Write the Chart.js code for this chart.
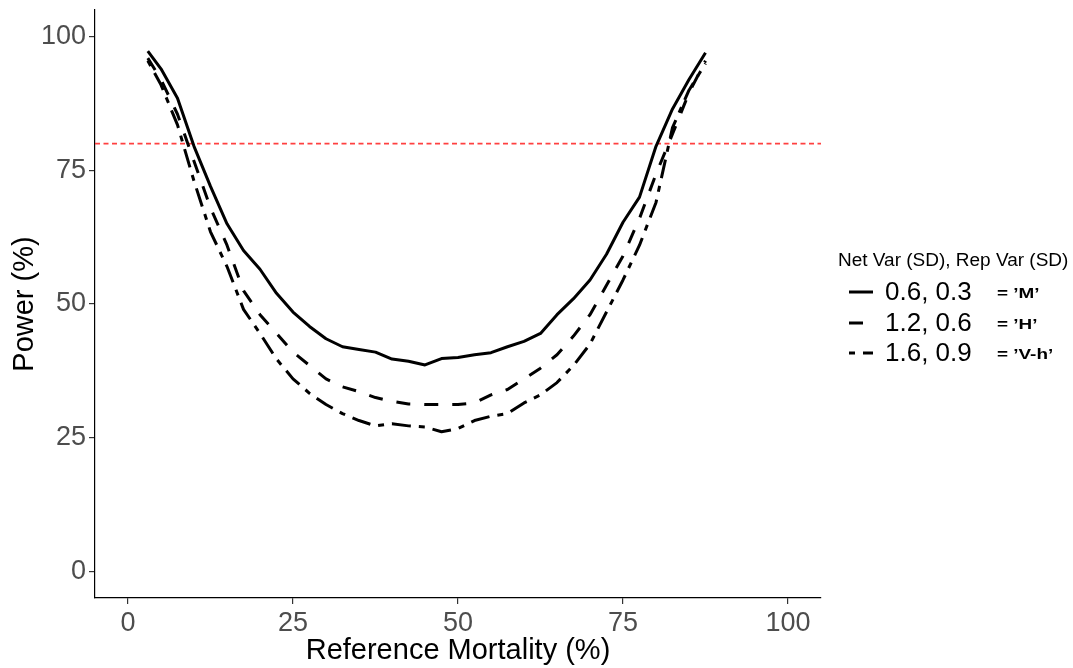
<!DOCTYPE html>
<html>
<head>
<meta charset="utf-8">
<title>Power vs Reference Mortality</title>
<script src="https://cdn.jsdelivr.net/npm/chart.js@4.4.1/dist/chart.umd.min.js"></script>
<style>
  html, body { margin: 0; padding: 0; background: #fff; }
  #wrap { width: 1073px; height: 668px; position: relative; }
</style>
</head>
<body>
<div id="wrap"><canvas id="powerChart"></canvas></div>
<script>
"use strict";
// reference mortality (%) on the x axis
var mortality = [3, 5, 7.5, 10, 12.5, 15, 17.5, 20, 22.5, 25, 27.5, 30, 32.5, 35, 37.5, 40, 42.5, 45,
                 47.5, 50, 52.5, 55, 57.5, 60, 62.5, 65, 67.5, 70, 72.5, 75, 77.5, 80, 82.5, 85, 87.5];
// power (%) for each variance scenario
var powerM  = [97.3, 94, 88.5, 79.5, 72, 65, 60, 56.5, 52, 48.5, 45.8, 43.5, 42, 41.5, 41, 39.7, 39.3, 38.6,
               39.8, 40, 40.5, 40.9, 42, 43, 44.5, 48, 51, 54.5, 59.3, 65.3, 70, 79.5, 86.5, 92, 97];
var powerH  = [96, 92, 85.5, 76.7, 68, 61, 52.5, 48, 44.5, 41, 38.5, 36, 34.5, 33.6, 32.5, 31.8, 31.3, 31.2,
               31.2, 31.2, 31.5, 33, 34, 36, 38, 40.5, 44, 48, 53.5, 59, 66, 74.3, 81.8, 89.5, 95.5];
var powerVh = [95.5, 91, 83.5, 73, 63.5, 57, 49, 44.5, 39.7, 36, 33.3, 31.2, 29.5, 28.2, 27.2, 27.6, 27.2, 27,
               26.1, 26.7, 28.2, 29, 29.5, 31.5, 33, 35.3, 38.5, 42.5, 48.5, 54.5, 61, 69, 83, 90, 95];

var seriesLabels = ['0.6, 0.3', '1.2, 0.6', '1.6, 0.9'];
var seriesTags = ['= \u2019M\u2019', '= \u2019H\u2019', '= \u2019V-h\u2019'];
var seriesDash = [[], [14, 14], [6, 8, 19, 8]];
var legendTitle = 'Net Var (SD), Rep Var (SD)';

var xTicks = [0, 25, 50, 75, 100];
var yTicks = [0, 25, 50, 75, 100];
var targetPower = 80;

var fontFamily = '"Liberation Sans", Arial, sans-serif';
Chart.defaults.font.family = fontFamily;

function toPoints(ys) {
  return mortality.map(function (x, i) { return {x: x, y: ys[i]}; });
}

var datasets = [powerM, powerH, powerVh].map(function (ys, i) {
  return {
    label: seriesLabels[i],
    data: toPoints(ys),
    borderColor: '#000',
    borderWidth: 3,
    borderDash: seriesDash[i],
    borderCapStyle: 'butt',
    borderJoinStyle: 'round',
    pointRadius: 0,
    tension: 0,
    fill: false
  };
});

// red dashed reference line at 80% power
var targetLine = {
  id: 'targetLine',
  beforeDatasetsDraw: function (chart) {
    var ctx = chart.ctx, area = chart.chartArea;
    var y = chart.scales.y.getPixelForValue(targetPower);
    ctx.save();
    ctx.strokeStyle = '#ff4040';
    ctx.lineWidth = 1.6;
    ctx.setLineDash([5, 3.5]);
    ctx.beginPath();
    ctx.moveTo(area.left, y);
    ctx.lineTo(area.right, y);
    ctx.stroke();
    ctx.restore();
  }
};

// text squeezed/stretched sideways, the source picture is a bit wide
function wideText(ctx, text, x, y, sx) {
  ctx.save();
  ctx.translate(x, y);
  ctx.scale(sx, 1);
  ctx.fillText(text, 0, 0);
  ctx.restore();
}

// ggplot style legend at the right
var sideLegend = {
  id: 'sideLegend',
  afterDraw: function (chart) {
    var ctx = chart.ctx;
    var x0 = 838, rows = [292, 323, 353];
    ctx.save();
    ctx.fillStyle = '#000';
    ctx.textBaseline = 'middle';
    ctx.textAlign = 'left';
    ctx.font = '17.5px ' + fontFamily;
    wideText(ctx, legendTitle, x0, 261, 1.085);
    chart.data.datasets.forEach(function (ds, i) {
      var y = rows[i];
      ctx.strokeStyle = '#000';
      ctx.lineWidth = 3;
      ctx.lineCap = 'butt';
      ctx.setLineDash(ds.borderDash);
      ctx.beginPath();
      ctx.moveTo(x0 + 11, y);
      ctx.lineTo(x0 + 35, y);
      ctx.stroke();
      ctx.setLineDash([]);
      ctx.font = '26px ' + fontFamily;
      ctx.fillText(ds.label, x0 + 47, y + 1);
      ctx.font = 'bold 14px ' + fontFamily;
      wideText(ctx, seriesTags[i], x0 + 159, y + 2, 1.35);
    });
    ctx.restore();
  }
};

function axisOpts(min, max, ticks, title, isY) {
  return {
    type: 'linear',
    min: min,
    max: max,
    afterBuildTicks: function (scale) {
      scale.ticks = ticks.map(function (v) { return {value: v}; });
    },
    afterFit: function (scale) {
      if (isY) {
        scale.width = 95;
        scale.paddingTop = 0;
        scale.paddingBottom = 0;
      } else {
        scale.height = 70;
        scale.paddingLeft = 0;
        scale.paddingRight = 0;
      }
    },
    border: {display: true, color: '#000', width: 1.2},
    grid: {drawOnChartArea: false, drawTicks: true, tickLength: 6, tickColor: '#333', lineWidth: 1.2},
    ticks: {color: '#4d4d4d', font: {size: 27}, padding: 3, maxRotation: 0, autoSkip: false},
    title: {
      display: true,
      text: title,
      color: '#000',
      font: {size: 29},
      padding: isY ? {top: 8, bottom: 0} : {top: 0, bottom: 0}
    }
  };
}

new Chart(document.getElementById('powerChart'), {
  type: 'line',
  data: {datasets: datasets},
  plugins: [targetLine, sideLegend],
  options: {
    responsive: true,
    maintainAspectRatio: false,
    devicePixelRatio: 1,
    animation: false,
    layout: {padding: {top: 10, right: 252, left: 0, bottom: 0}},
    plugins: {legend: {display: false}, tooltip: {enabled: false}},
    scales: {
      x: axisOpts(-5, 105, xTicks, 'Reference Mortality (%)', false),
      y: axisOpts(-5, 105, yTicks, 'Power (%)', true)
    }
  }
});
</script>
</body>
</html>
